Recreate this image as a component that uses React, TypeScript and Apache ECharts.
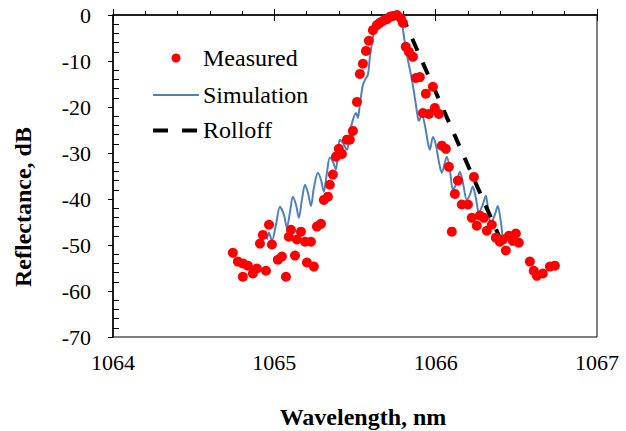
import React, { useEffect, useRef } from "react";
import * as echarts from "echarts";

const xTicks = [1064, 1065, 1066, 1067];
const yTicks = [0, -10, -20, -30, -40, -50, -60, -70];

const measuredWl = [
  1064.743, 1064.774, 1064.805, 1064.805, 1064.836, 1064.867, 1064.892, 1064.911, 1064.929, 1064.948,
  1064.967, 1064.985, 1065.022, 1065.047, 1065.072, 1065.09, 1065.103, 1065.128, 1065.14, 1065.165,
  1065.19, 1065.202, 1065.227, 1065.245, 1065.264, 1065.289, 1065.307, 1065.332, 1065.344, 1065.363,
  1065.382, 1065.4, 1065.419, 1065.45, 1065.468, 1065.487, 1065.512, 1065.53, 1065.549, 1065.568,
  1065.586, 1065.611, 1065.636, 1065.654, 1065.673, 1065.698, 1065.716, 1065.735, 1065.76, 1065.784,
  1065.797, 1065.815, 1065.834, 1065.859, 1065.877, 1065.902, 1065.921, 1065.939, 1065.958, 1065.983,
  1065.995, 1066.02, 1066.038, 1066.063, 1066.082, 1066.1, 1066.119, 1066.138, 1066.162, 1066.2,
  1066.224, 1066.237, 1066.255, 1066.274, 1066.299, 1066.317, 1066.348, 1066.373, 1066.398, 1066.416,
  1066.435, 1066.454, 1066.478, 1066.497, 1066.515, 1066.584, 1066.608, 1066.627, 1066.664, 1066.708,
  1066.739,
];
const measuredDb = [
  -51.7, -53.6, -54.0, -56.9, -54.5, -56.2, -55.1, -49.7, -47.8, -55.6,
  -45.6, -49.9, -53.2, -52.5, -56.9, -48.2, -46.7, -52.3, -48.8, -47.1,
  -49.3, -53.8, -49.3, -54.7, -46.0, -45.4, -40.2, -39.5, -36.9, -34.7,
  -30.8, -29.1, -30.2, -27.1, -27.1, -25.2, -18.9, -12.8, -10.6, -7.8,
  -5.6, -3.3, -2.2, -1.7, -1.3, -0.9, -0.4, -0.2, 0, -0.7,
  -1.7, -6.9, -8.0, -9.1, -13.7, -13.5, -21.3, -17.1, -21.5, -15.6,
  -20.2, -21.5, -28.4, -29.1, -33.0, -47.1, -38.9, -36.0, -41.2, -41.2,
  -44.1, -35.2, -45.8, -43.6, -44.1, -46.9, -45.6, -48.4, -49.3, -48.8,
  -51.2, -48.0, -49.1, -47.5, -49.5, -53.6, -55.6, -56.7, -56.2, -54.7,
  -54.5,
];

const simWl = [
  1064.954, 1064.967, 1064.985, 1065.01, 1065.035, 1065.059, 1065.078, 1065.097, 1065.115, 1065.134,
  1065.152, 1065.171, 1065.19, 1065.208, 1065.227, 1065.245, 1065.27, 1065.289, 1065.307, 1065.326,
  1065.344, 1065.363, 1065.382, 1065.394, 1065.406, 1065.425, 1065.45, 1065.468, 1065.487, 1065.506,
  1065.518, 1065.53, 1065.549, 1065.568, 1065.58, 1065.592, 1065.611, 1065.629, 1065.654, 1065.685,
  1065.716, 1065.747, 1065.778, 1065.791, 1065.809, 1065.828, 1065.853, 1065.871, 1065.89, 1065.896,
  1065.914, 1065.933, 1065.952, 1065.964, 1065.983, 1066.001, 1066.02, 1066.038, 1066.069, 1066.088,
  1066.107, 1066.125, 1066.15, 1066.169, 1066.193, 1066.212, 1066.23, 1066.249, 1066.268, 1066.292,
  1066.311, 1066.323, 1066.342, 1066.367, 1066.385, 1066.404, 1066.416, 1066.435,
];
const simDb = [
  -48.8, -47.3, -49.1, -45.6, -41.7, -43.4, -46.2, -42.8, -39.5, -41.2,
  -44.1, -40.2, -36.9, -38.6, -41.5, -37.6, -34.3, -35.8, -38.4, -34.3,
  -31.0, -31.9, -33.6, -29.7, -27.1, -27.8, -29.3, -25.6, -22.8, -21.3,
  -22.4, -19.5, -15.2, -13.7, -13.0, -9.3, -4.8, -2.8, -0.9, -0.2,
  0, 0, 0, -1.7, -6.1, -9.8, -14.1, -18.0, -22.4, -23.0,
  -21.7, -23.9, -27.8, -29.3, -26.5, -28.2, -31.9, -34.3, -30.8, -33.6,
  -38.0, -36.9, -34.1, -36.5, -40.2, -39.1, -37.3, -39.7, -43.0, -41.2,
  -39.3, -41.7, -45.4, -43.4, -41.5, -44.9, -48.2, -49.7,
];

const rolloffWl = [1065.79, 1066.392];
const rolloffDb = [0, -48];

const FAMILY = "Liberation Serif";
const FONT = "Liberation Serif, serif";

export default function App() {
  const ref = useRef<HTMLDivElement>(null);
  useEffect(() => {
    if (!ref.current) return;
    const chart = echarts.init(ref.current, null, { renderer: "svg" });
    const zip = (a: number[], b: number[]) => a.map((v, i) => [v, b[i]]);
    const xBase = {
      type: "value",
      min: xTicks[0],
      max: xTicks[xTicks.length - 1],
      interval: 1,
      position: "bottom",
      splitLine: { show: false },
    };
    const yBase = {
      type: "value",
      min: yTicks[yTicks.length - 1],
      max: yTicks[0],
      interval: 10,
      position: "left",
      splitLine: { show: false },
    };
    chart.setOption({
      animation: false,
      backgroundColor: "#fff",
      textStyle: { fontFamily: FAMILY },
      grid: {
        left: 113,
        right: 29,
        top: 15,
        bottom: 94,
        show: true,
        borderColor: "#000",
        borderWidth: 1,
        backgroundColor: "transparent",
      },
      xAxis: [
        {
          ...xBase,
          axisLine: { show: true, lineStyle: { color: "#000", width: 1.5 } },
          axisTick: { show: true, inside: true, length: 6, lineStyle: { color: "#000" } },
          minorTick: { show: true, splitNumber: 5, length: 4, lineStyle: { color: "#000" } },
          axisLabel: {
            color: "#000", fontFamily: FAMILY, fontSize: 22, margin: 14,
            formatter: (v: number) => String(v),
          },
        },
        {
          ...xBase,
          axisLine: { show: false },
          axisTick: { show: true, inside: false, length: 6, lineStyle: { color: "#000" } },
          axisLabel: { show: false },
        },
      ],
      yAxis: [
        {
          ...yBase,
          axisLine: { show: true, lineStyle: { color: "#000", width: 1.5 } },
          axisTick: { show: true, inside: false, length: 5, lineStyle: { color: "#000" } },
          axisLabel: {
            color: "#000", fontFamily: FAMILY, fontSize: 22, margin: 22,
            formatter: (v: number) => String(v),
          },
        },
        {
          ...yBase,
          axisLine: { show: false },
          axisTick: { show: false, inside: true },
          minorTick: { show: true, splitNumber: 5, length: 6, lineStyle: { color: "#000" } },
          axisLabel: { show: false },
        },
      ],
      series: [
        {
          name: "Simulation",
          type: "line",
          data: zip(simWl, simDb),
          symbol: "none",
          smooth: 0.3,
          lineStyle: { color: "#4f81bd", width: 2 },
          z: 2,
        },
        {
          name: "Rolloff",
          type: "line",
          data: zip(rolloffWl, rolloffDb),
          symbol: "none",
          lineStyle: { color: "#000", width: 4, type: [13, 13] },
          z: 3,
        },
        {
          name: "Measured",
          type: "scatter",
          data: zip(measuredWl, measuredDb),
          symbol: "circle",
          symbolSize: 10,
          clip: false,
          itemStyle: { color: "#ff0000", opacity: 1 },
          z: 4,
        },
      ],
      graphic: [
        { type: "circle", shape: { cx: 176, cy: 58, r: 4.5 }, style: { fill: "#ff0000" } },
        {
          type: "text", x: 203, y: 58,
          style: { text: "Measured", font: `24px ${FONT}`, fill: "#000", align: "left", verticalAlign: "middle" },
        },
        { type: "line", shape: { x1: 153, y1: 95, x2: 199, y2: 95 }, style: { stroke: "#4f81bd", lineWidth: 2 } },
        {
          type: "text", x: 203, y: 95,
          style: { text: "Simulation", font: `24px ${FONT}`, fill: "#000", align: "left", verticalAlign: "middle" },
        },
        {
          type: "line", shape: { x1: 153, y1: 130.5, x2: 198, y2: 130.5 },
          style: { stroke: "#000", lineWidth: 4, lineDash: [15, 14] },
        },
        {
          type: "text", x: 203, y: 130,
          style: { text: "Rolloff", font: `24px ${FONT}`, fill: "#000", align: "left", verticalAlign: "middle" },
        },
        {
          type: "text", x: 23, y: 207, rotation: Math.PI / 2,
          style: { text: "Reflectance, dB", font: `bold 24px ${FONT}`, fill: "#000", align: "center", verticalAlign: "middle" },
        },
        {
          type: "text", x: 363, y: 417,
          style: { text: "Wavelength, nm", font: `bold 24px ${FONT}`, fill: "#000", align: "center", verticalAlign: "middle" },
        },
      ],
    });
    return () => chart.dispose();
  }, []);
  return (
    <div
      ref={ref}
      style={{ position: "absolute", left: 0, top: 0, width: 626, height: 431, overflow: "hidden" }}
    />
  );
}
